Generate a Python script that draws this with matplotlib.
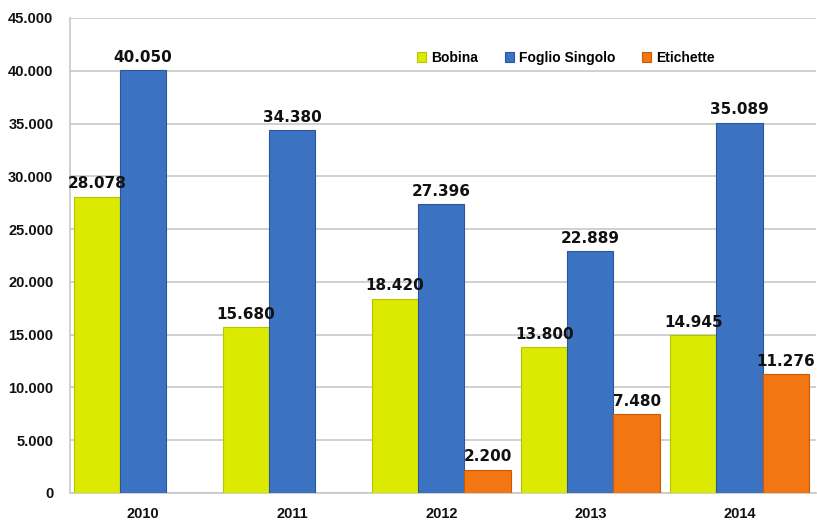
import numpy as np
import matplotlib.pyplot as plt
from matplotlib.ticker import FuncFormatter

years = ['2010', '2011', '2012', '2013', '2014']
bobina = [28078, 15680, 18420, 13800, 14945]
foglio = [40050, 34380, 27396, 22889, 35089]
etichette = [np.nan, np.nan, 2200, 7480, 11276]

series = [('Bobina', bobina, '#dbea00', '#b9c400'),
          ('Foglio Singolo', foglio, '#3b72c2', '#2a579c'),
          ('Etichette', etichette, '#f27612', '#c85a08')]


def fmt_it(v):
    return f'{int(round(v)):,}'.replace(',', '.')


plt.rcParams['font.family'] = ['Liberation Sans', 'DejaVu Sans']

fig = plt.figure(figsize=(8.17, 5.23), dpi=100)
ax = fig.add_axes([0.0857, 0.0574, 0.9125, 0.9082])

x = np.arange(len(years))
width = 0.31
offsets = [-width, 0, width]

for (name, vals, color, edge), off in zip(series, offsets):
    ax.bar(x + off, vals, width, color=color, edgecolor=edge,
           linewidth=0.8, label=name, zorder=3)
    for xi, v in zip(x + off, vals):
        if np.isnan(v):
            continue
        ax.text(xi, v + 500, fmt_it(v), ha='center', va='bottom',
                fontsize=11, fontweight='bold', family='DejaVu Sans',
                color='#111111', zorder=4)

ax.set_xlim(-0.49, 4.51)
ax.set_ylim(0, 45000)
ax.set_yticks(np.arange(0, 45001, 5000))
ax.yaxis.set_major_formatter(FuncFormatter(lambda v, _: fmt_it(v)))
ax.set_xticks(x)
ax.set_xticklabels(years)
for lab in ax.get_xticklabels() + ax.get_yticklabels():
    lab.set_fontweight('bold')
    lab.set_fontsize(10.5)
    lab.set_color('#111111')
ax.tick_params(axis='y', length=0, pad=12)
ax.tick_params(axis='x', length=0, pad=10)

ax.grid(axis='y', color='#c8c8c8', linewidth=1.2, zorder=0)
ax.set_axisbelow(True)
for s in ['top', 'right']:
    ax.spines[s].set_visible(False)
ax.spines['left'].set_color('#c8c8c8')
ax.spines['bottom'].set_color('#c8c8c8')
ax.spines['left'].set_linewidth(1.2)
ax.spines['bottom'].set_linewidth(1.2)

ax.legend(loc='upper right', bbox_to_anchor=(0.882, 0.957), ncol=3,
          frameon=False, handlelength=0.65, handleheight=0.65,
          columnspacing=1.9, handletextpad=0.4,
          prop={'weight': 'bold', 'size': 10})

fig.savefig('out.png', dpi=100)
